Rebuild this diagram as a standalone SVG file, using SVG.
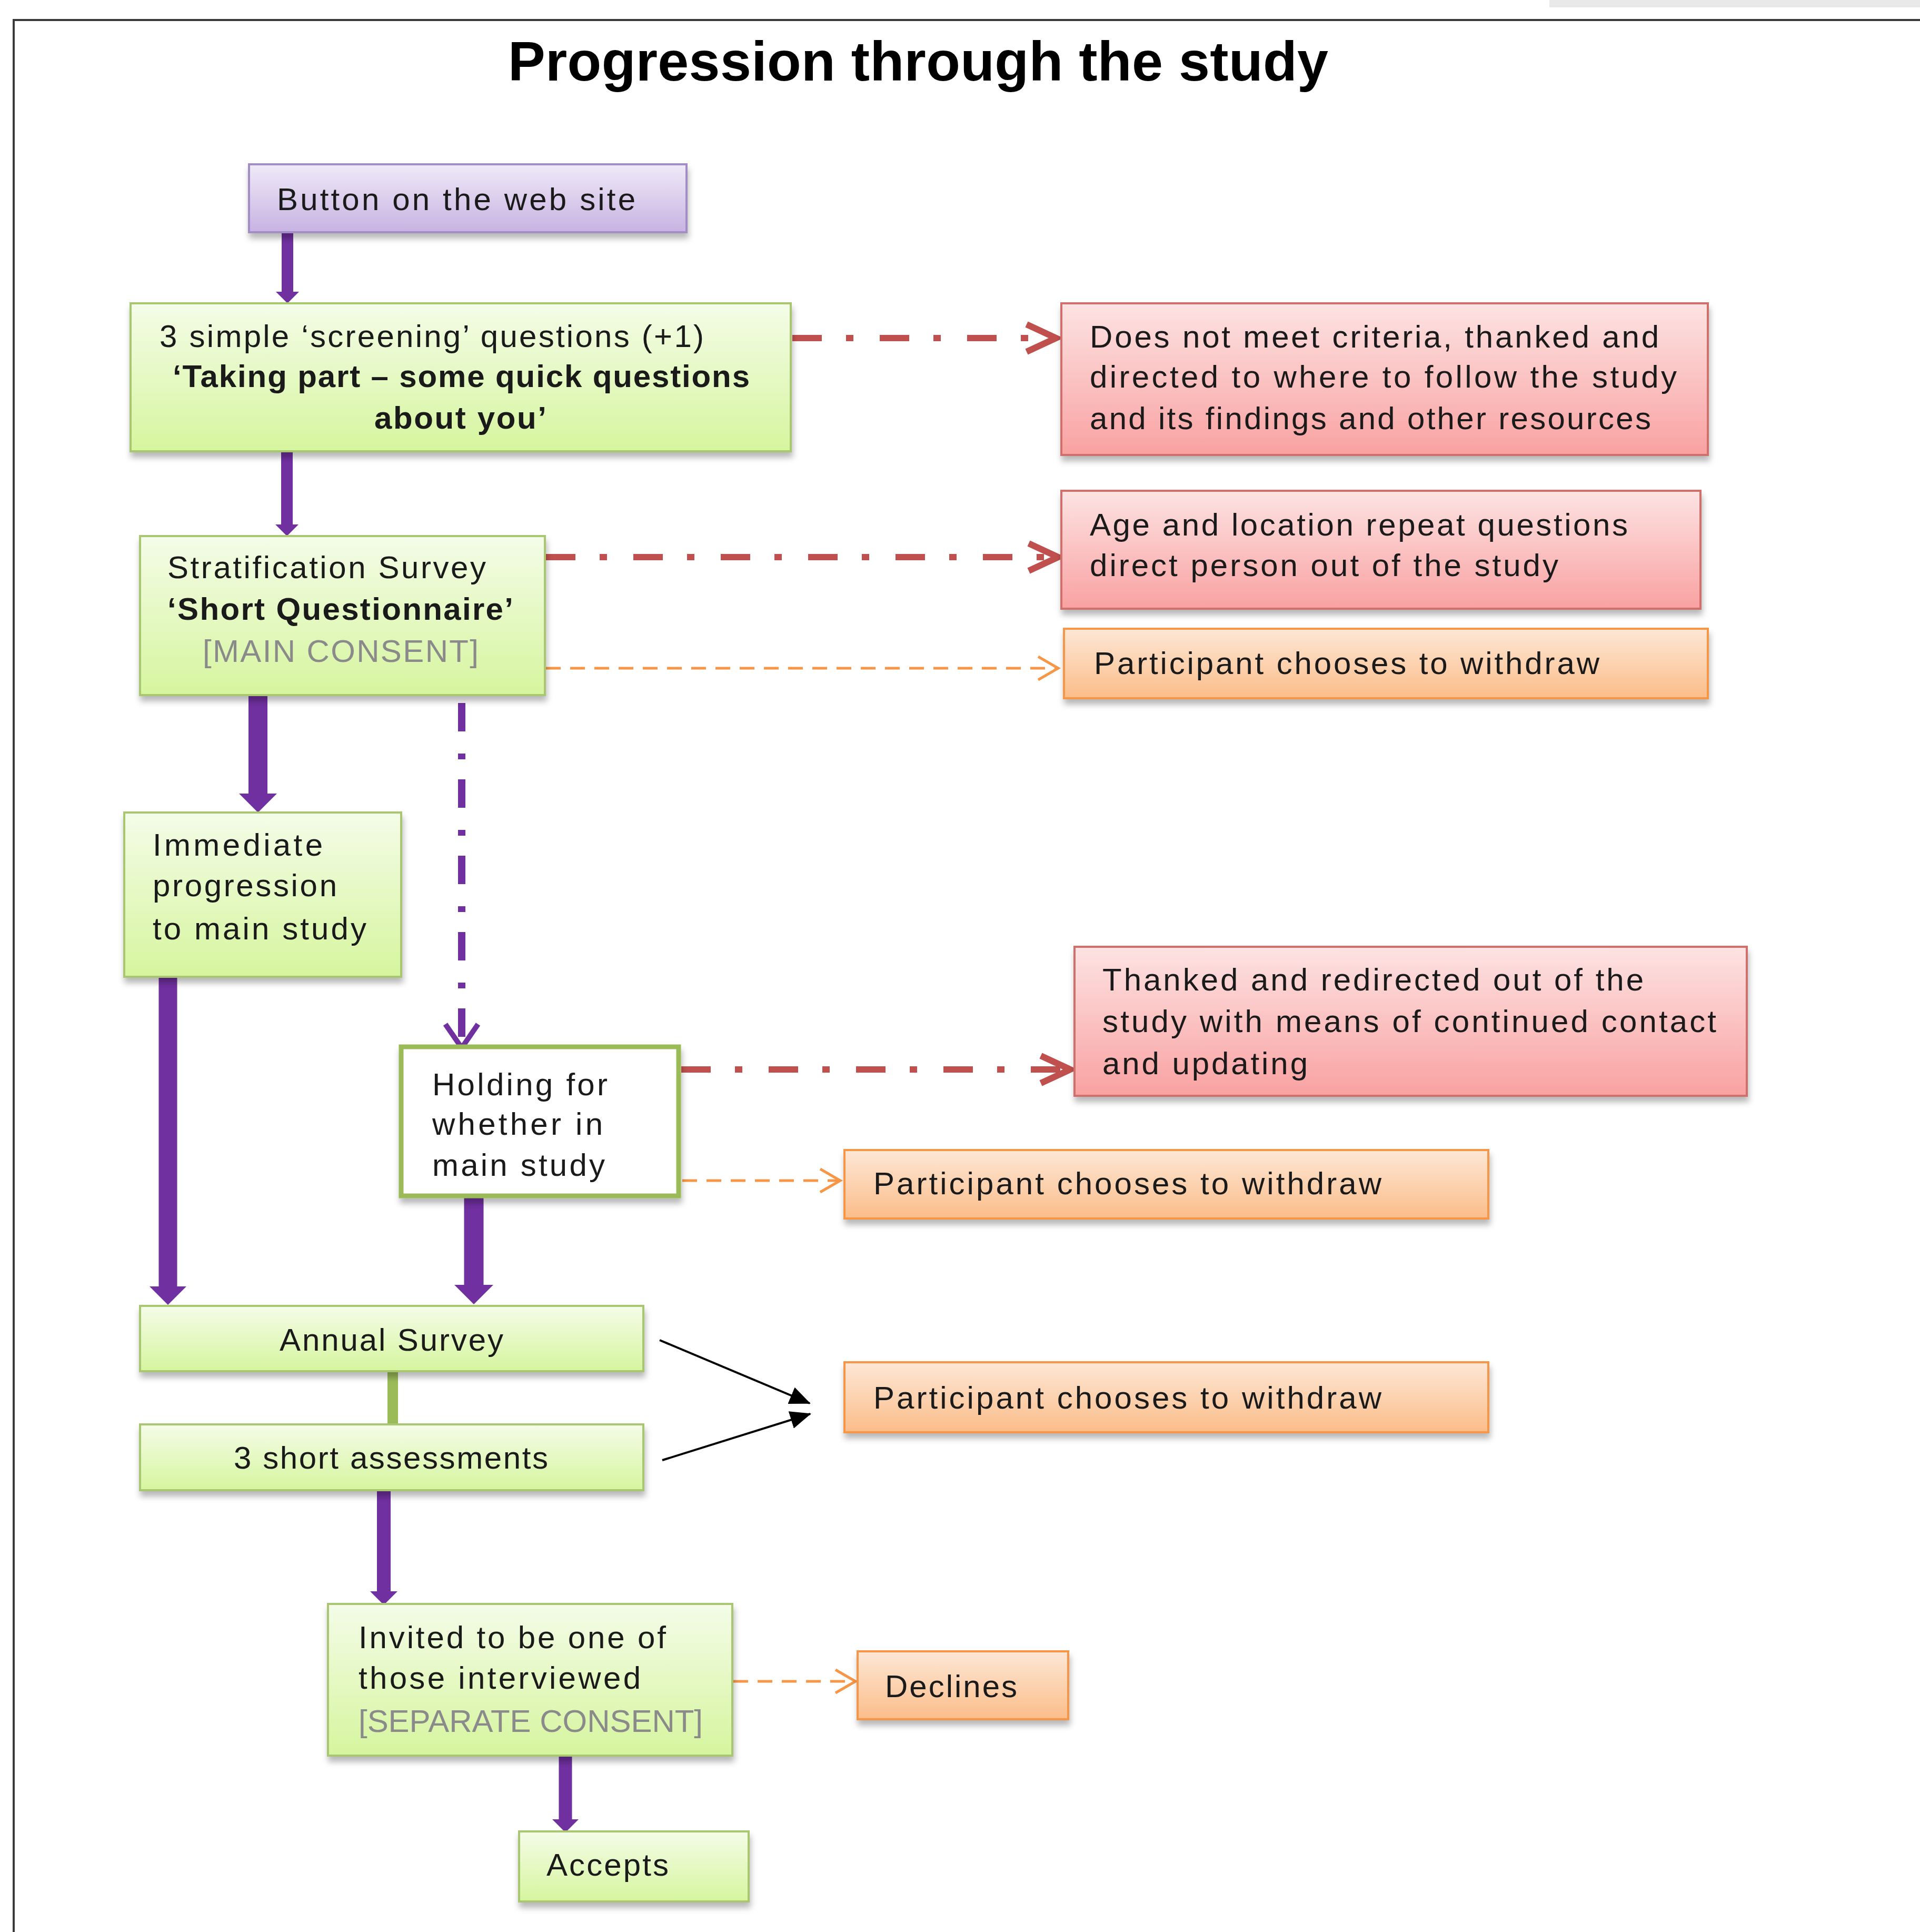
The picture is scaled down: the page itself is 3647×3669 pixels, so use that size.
<svg xmlns="http://www.w3.org/2000/svg" width="3647" height="3669" viewBox="0 0 3647 3669">
<style>
.t{font-family:"Liberation Sans",Arial,sans-serif;font-size:60px;fill:#1a1a1a}
.b{font-weight:bold}
.g{fill:#8a8a8a}
.title{font-family:"Liberation Sans",Arial,sans-serif;font-size:106px;font-weight:bold;fill:#000}
.box{stroke-width:4;filter:url(#sh)}
.green{fill:url(#gGreen);stroke:#a9c770}
.red{fill:url(#gRed);stroke:#cf6f6c}
.orange{fill:url(#gOrange);stroke:#f79646}
.purple{fill:url(#gPurple);stroke:#a38dc6}
.pa{stroke:#7030a0;fill:none;marker-end:url(#ph)}
.pdd{stroke:#7030a0;stroke-width:14;fill:none;stroke-dasharray:54 42 11 38}
.pch{stroke:#7030a0;stroke-width:10;fill:none}
.rdd{stroke:#c0504d;stroke-width:12;fill:none;stroke-dasharray:56 46 14 50}
.rch{stroke:#c0504d;stroke-width:12;fill:none;stroke-linejoin:miter}
.od{stroke:#f79646;stroke-width:5;fill:none;stroke-dasharray:28 18}
.och{stroke:#f79646;stroke-width:5;fill:none}
.bk{stroke:#000;stroke-width:4;fill:none;marker-end:url(#bh)}
</style>
<defs>
<linearGradient id="gGreen" x1="0" y1="0" x2="0" y2="1"><stop offset="0" stop-color="#f4fce8"/><stop offset="1" stop-color="#d6f59e"/></linearGradient>
<linearGradient id="gRed" x1="0" y1="0" x2="0" y2="1"><stop offset="0" stop-color="#fde3e3"/><stop offset="1" stop-color="#f9a1a1"/></linearGradient>
<linearGradient id="gOrange" x1="0" y1="0" x2="0" y2="1"><stop offset="0" stop-color="#fde7d6"/><stop offset="1" stop-color="#fbbd89"/></linearGradient>
<linearGradient id="gPurple" x1="0" y1="0" x2="0" y2="1"><stop offset="0" stop-color="#efeaf7"/><stop offset="1" stop-color="#c8b2e3"/></linearGradient>
<filter id="sh" x="-5%" y="-10%" width="110%" height="130%"><feDropShadow dx="2" dy="10" stdDeviation="6" flood-color="#000" flood-opacity="0.28"/></filter>
<marker id="ph" markerUnits="strokeWidth" viewBox="0 0 1 2" markerWidth="1" markerHeight="2" refX="0" refY="1" orient="auto"><path d="M0,0 L1,1 L0,2 z" fill="#7030a0"/></marker>
<marker id="bh" markerUnits="userSpaceOnUse" viewBox="0 0 40 34" markerWidth="40" markerHeight="34" refX="38" refY="17" orient="auto"><path d="M0,0 L40,17 L0,34 z" fill="#000"/></marker>
</defs>
<rect x="0" y="0" width="3647" height="3669" fill="#fff"/>
<rect x="2943" y="0" width="704" height="14" fill="#e9e9e9"/>
<path d="M26,3669 V38 H3647" fill="none" stroke="#3a3a3a" stroke-width="4"/>
<text id="title" class="title" x="965" y="153" textLength="1558" lengthAdjust="spacing">Progression through the study</text>

<g id="connectors">
<line class="pa" stroke-width="22" x1="546" y1="441" x2="546" y2="554"/>
<line class="pa" stroke-width="22" x1="545" y1="857" x2="545" y2="996"/>
<line class="pa" stroke-width="36" x1="490" y1="1320" x2="490" y2="1507"/>
<line class="pa" stroke-width="35" x1="319" y1="1856" x2="319" y2="2443"/>
<line class="pa" stroke-width="37" x1="900" y1="2272" x2="900" y2="2440"/>
<line class="pa" stroke-width="26" x1="729" y1="2831" x2="729" y2="3022"/>
<line class="pa" stroke-width="25" x1="1074" y1="3334" x2="1074" y2="3455"/>
<line class="pdd" x1="877" y1="1335" x2="877" y2="1988"/>
<polyline class="pch" points="846,1945 877,1990 908,1945"/>
<line class="rdd" x1="1505" y1="642" x2="2000" y2="642"/>
<polyline class="rch" points="1950,616 2006,642 1950,668"/>
<line class="rdd" x1="1037" y1="1058" x2="2004" y2="1058"/>
<polyline class="rch" points="1954,1032 2010,1058 1954,1084"/>
<line class="rdd" x1="1294" y1="2031" x2="2027" y2="2031"/>
<polyline class="rch" points="1977,2005 2033,2031 1977,2057"/>
<line class="od" x1="1037" y1="1269" x2="2008" y2="1269"/>
<polyline class="och" points="1972,1247 2010,1269 1972,1291"/>
<line class="od" x1="1296" y1="2242" x2="1594" y2="2242"/>
<polyline class="och" points="1558,2220 1596,2242 1558,2264"/>
<line class="od" x1="1393" y1="3193" x2="1623" y2="3193"/>
<polyline class="och" points="1587,3171 1625,3193 1587,3215"/>
<line class="bk" x1="1253" y1="2545" x2="1538" y2="2665"/>
<line class="bk" x1="1258" y1="2773" x2="1539" y2="2685"/>
<line x1="746" y1="2604" x2="746" y2="2705" stroke="#9bbb59" stroke-width="20"/>
</g>

<g id="button">
<rect class="box purple" x="473" y="312" width="831" height="129"/>
<text class="t" x="526" y="399" textLength="681" lengthAdjust="spacing">Button on the web site</text>
</g>
<g id="screening">
<rect class="box green" x="248" y="576" width="1254" height="281"/>
<text class="t" x="303" y="659" textLength="1034" lengthAdjust="spacing">3 simple ‘screening’ questions (+1)</text>
<text class="t b" x="328" y="735" textLength="1096" lengthAdjust="spacing">‘Taking part – some quick questions</text>
<text class="t b" x="711" y="814" textLength="327" lengthAdjust="spacing">about you’</text>
</g>
<g id="not-eligible">
<rect class="box red" x="2016" y="576" width="1228" height="288"/>
<text class="t" x="2070" y="660" textLength="1081" lengthAdjust="spacing">Does not meet criteria, thanked and</text>
<text class="t" x="2070" y="736" textLength="1115" lengthAdjust="spacing">directed to where to follow the study</text>
<text class="t" x="2070" y="815" textLength="1066" lengthAdjust="spacing">and its findings and other resources</text>
</g>
<g id="age-location">
<rect class="box red" x="2016" y="932" width="1214" height="224"/>
<text class="t" x="2070" y="1017" textLength="1022" lengthAdjust="spacing">Age and location repeat questions</text>
<text class="t" x="2070" y="1094" textLength="890" lengthAdjust="spacing">direct person out of the study</text>
</g>
<g id="withdraw-1">
<rect class="box orange" x="2021" y="1194" width="1223" height="132"/>
<text class="t" x="2078" y="1280" textLength="960" lengthAdjust="spacing">Participant chooses to withdraw</text>
</g>
<g id="stratification">
<rect class="box green" x="266" y="1018" width="769" height="302"/>
<text class="t" x="318" y="1098" textLength="605" lengthAdjust="spacing">Stratification Survey</text>
<text class="t b" x="318" y="1177" textLength="657" lengthAdjust="spacing">‘Short Questionnaire’</text>
<text class="t g" x="385" y="1257" textLength="524" lengthAdjust="spacing">[MAIN CONSENT]</text>
</g>
<g id="immediate">
<rect class="box green" x="236" y="1543" width="526" height="312"/>
<text class="t" x="290" y="1625" textLength="323" lengthAdjust="spacing">Immediate</text>
<text class="t" x="290" y="1702" textLength="350" lengthAdjust="spacing">progression</text>
<text class="t" x="290" y="1784" textLength="406" lengthAdjust="spacing">to main study</text>
</g>
<g id="holding">
<rect x="762" y="1988" width="527" height="283" fill="#fff" stroke="#9bbb59" stroke-width="9" filter="url(#sh)"/>
<text class="t" x="821" y="2080" textLength="333" lengthAdjust="spacing">Holding for</text>
<text class="t" x="821" y="2155" textLength="324" lengthAdjust="spacing">whether in</text>
<text class="t" x="821" y="2233" textLength="328" lengthAdjust="spacing">main study</text>
</g>
<g id="thanked">
<rect class="box red" x="2041" y="1798" width="1277" height="283"/>
<text class="t" x="2094" y="1881" textLength="1028" lengthAdjust="spacing">Thanked and redirected out of the</text>
<text class="t" x="2094" y="1960" textLength="1166" lengthAdjust="spacing">study with means of continued contact</text>
<text class="t" x="2094" y="2040" textLength="390" lengthAdjust="spacing">and updating</text>
</g>
<g id="withdraw-2">
<rect class="box orange" x="1604" y="2184" width="1223" height="130"/>
<text class="t" x="1659" y="2268" textLength="965" lengthAdjust="spacing">Participant chooses to withdraw</text>
</g>
<g id="annual">
<rect class="box green" x="266" y="2480" width="956" height="124"/>
<text class="t" x="531" y="2565" textLength="425" lengthAdjust="spacing">Annual Survey</text>
</g>
<g id="assessments">
<rect class="box green" x="266" y="2705" width="956" height="125"/>
<text class="t" x="444" y="2789" textLength="597" lengthAdjust="spacing">3 short assessments</text>
</g>
<g id="withdraw-3">
<rect class="box orange" x="1604" y="2587" width="1223" height="133"/>
<text class="t" x="1659" y="2675" textLength="965" lengthAdjust="spacing">Participant chooses to withdraw</text>
</g>
<g id="invited">
<rect class="box green" x="623" y="3046" width="768" height="288"/>
<text class="t" x="681" y="3130" textLength="584" lengthAdjust="spacing">Invited to be one of</text>
<text class="t" x="681" y="3207" textLength="536" lengthAdjust="spacing">those interviewed</text>
<text class="t g" x="681" y="3289" textLength="654" lengthAdjust="spacing">[SEPARATE CONSENT]</text>
</g>
<g id="declines">
<rect class="box orange" x="1629" y="3136" width="400" height="129"/>
<text class="t" x="1681" y="3223" textLength="251" lengthAdjust="spacing">Declines</text>
</g>
<g id="accepts">
<rect class="box green" x="986" y="3478" width="436" height="133"/>
<text class="t" x="1038" y="3562" textLength="232" lengthAdjust="spacing">Accepts</text>
</g>
</svg>
